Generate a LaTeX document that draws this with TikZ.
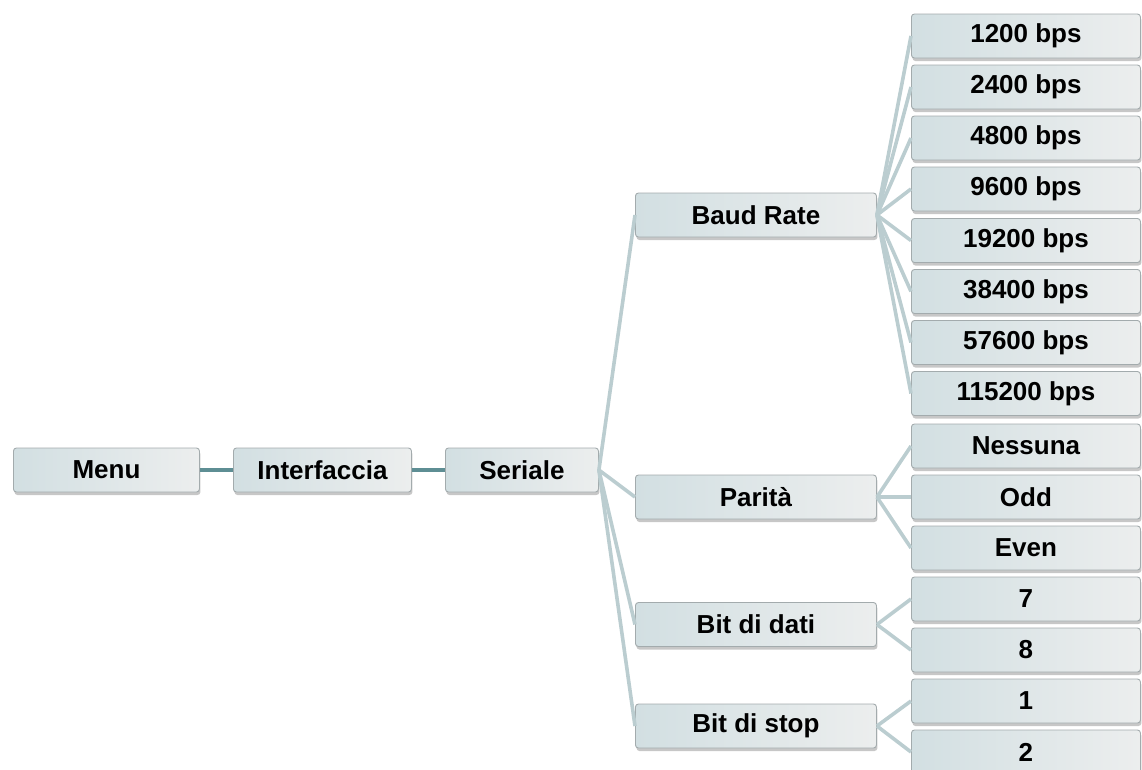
\documentclass[tikz,border=0pt]{standalone}
\usepackage{fontspec}
\setmainfont{Liberation Sans}
\usetikzlibrary{shadows}
\definecolor{boxL}{HTML}{D2DFE2}
\definecolor{boxR}{HTML}{ECEEEE}
\definecolor{boxB}{HTML}{A3ABAD}
\definecolor{fanC}{HTML}{BBCDD0}
\definecolor{linkC}{HTML}{5E8E94}
\tikzset{
  box/.style={draw=boxB, line width=0.9pt, rounded corners=3pt, left color=boxL, right color=boxR,
    minimum height=44pt, inner sep=0pt, anchor=west, font=\fontsize{26}{30}\selectfont\bfseries,
    drop shadow={shadow xshift=1pt, shadow yshift=-3pt, opacity=0.22, fill=black}},
  lvl0/.style={box, minimum width=186pt},
  lvl1/.style={box, minimum width=178pt},
  lvl2/.style={box, minimum width=153pt},
  lvl3/.style={box, minimum width=241pt},
  leaf/.style={box, minimum width=229pt},
  fan/.style={draw=fanC, line width=3.6pt},
  link/.style={draw=linkC, line width=3.4pt}
}
\begin{document}
\begin{tikzpicture}[x=1pt,y=-1pt]
\useasboundingbox (0,0) rectangle (1142,769);
\node[lvl0] (menu) at (13,470) {Menu};
\node[lvl1] (interf) at (233,470) {Interfaccia};
\node[lvl2] (seriale) at (445,470) {Seriale};
\node[lvl3] (baud) at (635,215) {Baud Rate};
\node[lvl3] (parita) at (635,497) {Parità};
\node[lvl3] (dati) at (635,624.5) {Bit di dati};
\node[lvl3] (stop) at (635,726) {Bit di stop};
\node[leaf] (b1) at (911,36) {1200 bps};
\node[leaf] (b2) at (911,87) {2400 bps};
\node[leaf] (b3) at (911,138) {4800 bps};
\node[leaf] (b4) at (911,189) {9600 bps};
\node[leaf] (b5) at (911,240.5) {19200 bps};
\node[leaf] (b6) at (911,291.5) {38400 bps};
\node[leaf] (b7) at (911,342.5) {57600 bps};
\node[leaf] (b8) at (911,393.5) {115200 bps};
\node[leaf] (p1) at (911,446) {Nessuna};
\node[leaf] (p2) at (911,497) {Odd};
\node[leaf] (p3) at (911,548) {Even};
\node[leaf] (d1) at (911,599) {7};
\node[leaf] (d2) at (911,650) {8};
\node[leaf] (s1) at (911,701) {1};
\node[leaf] (s2) at (911,752) {2};
\draw[link] (menu.east) -- (interf.west);
\draw[link] (interf.east) -- (seriale.west);
\foreach \t in {baud,parita,dati,stop}{\draw[fan] (seriale.east) -- (\t.west);}
\foreach \t in {b1,b2,b3,b4,b5,b6,b7,b8}{\draw[fan] (baud.east) -- (\t.west);}
\foreach \t in {p1,p2,p3}{\draw[fan] (parita.east) -- (\t.west);}
\foreach \t in {d1,d2}{\draw[fan] (dati.east) -- (\t.west);}
\foreach \t in {s1,s2}{\draw[fan] (stop.east) -- (\t.west);}
\end{tikzpicture}
\end{document}
